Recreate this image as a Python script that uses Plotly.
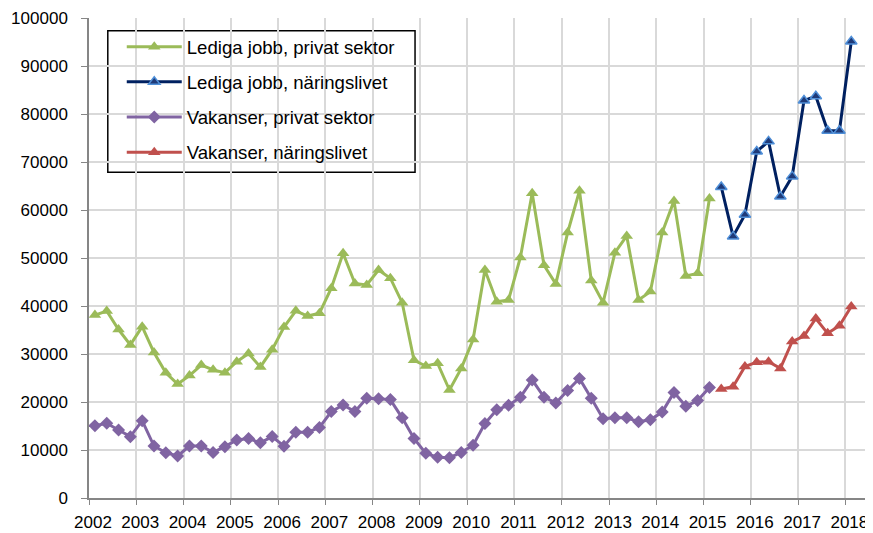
import plotly.graph_objects as go

# Quarterly data, first quarter of each series given as (year, quarter)
start_private = (2002, 1)
start_business = (2015, 2)

lediga_privat = [
    38100, 38960, 35100, 31900,
    35700, 30300, 26100, 23750,
    25500, 27700, 26700, 26100,
    28400, 30100, 27300, 30900,
    35600, 39000, 37900, 38500,
    43700, 51000, 44700, 44400,
    47500, 45800, 40700, 28700,
    27500, 28050, 22500, 27000,
    33000, 47500, 40900, 41250,
    50100, 63500, 48500, 44600,
    55300, 64000, 45300, 40700,
    51100, 54600, 41250, 43000,
    55300, 61900, 46250, 46800,
    62400,
]
vakanser_privat = [
    15070, 15560, 14170, 12780,
    16100, 10830, 9440, 8750,
    10830, 10830, 9500, 10700,
    12100, 12400, 11500, 12800,
    10800, 13700, 13700, 14700,
    18000, 19400, 18000, 20800,
    20700, 20500, 16700, 12400,
    9300, 8500, 8400, 9500,
    11000, 15500, 18400, 19300,
    21000, 24600, 21000, 19800,
    22400, 24900, 20800, 16500,
    16700, 16700, 15900, 16300,
    17900, 22000, 19100, 20300,
    23000,
]
lediga_naring = [
    64800, 54500, 59000, 72200, 74300, 62800,
    67000, 82800, 83700, 76500, 76500, 95100,
]
vakanser_naring = [
    22700, 23200, 27400, 28300, 28400, 27000,
    32600, 33750, 37400, 34300, 35900, 39900,
]
year_ticks = list(range(2002, 2019))
series_names = [
    "Lediga jobb, privat sektor",
    "Lediga jobb, näringslivet",
    "Vakanser, privat sektor",
    "Vakanser, näringslivet",
]


def quarter_x(start, n):
    y, q = start
    return [y + (q - 1 + i + 0.5) / 4 for i in range(n)]


x_priv = quarter_x(start_private, len(lediga_privat))
x_nar = quarter_x(start_business, len(lediga_naring))

fig = go.Figure()
fig.add_trace(go.Scatter(
    x=x_priv, y=lediga_privat, name=series_names[0], mode="lines+markers",
    line=dict(color="#9BBB59", width=3),
    marker=dict(symbol="triangle-up", size=11, color="#9BBB59"),
    legendgroup="a",
))
fig.add_trace(go.Scatter(
    x=x_nar, y=lediga_naring, name=series_names[1], mode="lines+markers",
    line=dict(color="#002060", width=3),
    marker=dict(symbol="triangle-up", size=10, color="#1F3A78",
                line=dict(color="#4F8FD8", width=1.5)),
    legendgroup="b",
))
fig.add_trace(go.Scatter(
    x=x_priv, y=vakanser_privat, name=series_names[2], mode="lines+markers",
    line=dict(color="#8064A2", width=3),
    marker=dict(symbol="diamond", size=10, color="#8064A2"),
    legendgroup="c",
))
fig.add_trace(go.Scatter(
    x=x_nar, y=vakanser_naring, name=series_names[3], mode="lines+markers",
    line=dict(color="#C0504D", width=3),
    marker=dict(symbol="triangle-up", size=11, color="#C0504D"),
    legendgroup="d",
))

font_family = "Liberation Sans, Arial, sans-serif"
fig.update_layout(
    width=865, height=525,
    margin=dict(l=80.5, r=3.5, t=10, b=35),
    paper_bgcolor="white", plot_bgcolor="white",
    font=dict(family=font_family, size=16, color="#000000"),
    showlegend=True,
    legend=dict(
        x=0.042, y=0.979, xanchor="left", yanchor="top",
        bgcolor="rgba(0,0,0,0)", borderwidth=0,
        font=dict(size=18.6, family=font_family),
        traceorder="grouped", tracegroupgap=8,
        itemwidth=55,
    ),
    shapes=[dict(
        type="rect", xref="paper", yref="paper",
        x0=0.0241, x1=0.418, y0=0.6785, y1=0.9735,
        line=dict(color="#000000", width=1.5), fillcolor="white",
        layer="between",
    )],
    xaxis=dict(
        range=[2002, 2018.5], tickmode="array", tickvals=year_ticks,
        ticktext=[str(y) for y in year_ticks],
        showgrid=True, gridcolor="#D9D9D9", gridwidth=1.5,
        showline=True, linecolor="#868686", linewidth=1.5,
        ticks="outside", ticklen=5, tickcolor="#868686",
        zeroline=False, tickfont=dict(size=17, family=font_family),
        ticklabelstandoff=3, ticklabelshift=4, tickangle=0,
        automargin=False,
    ),
    yaxis=dict(
        range=[0, 100000], dtick=10000, tickformat="d",
        showgrid=True, gridcolor="#D9D9D9", gridwidth=1.5,
        showline=True, linecolor="#868686", linewidth=1.5,
        ticks="outside", ticklen=6, tickcolor="#868686",
        zeroline=False, tickfont=dict(size=17, family=font_family),
        ticklabelstandoff=10, automargin=False,
    ),
)

fig.write_html("out.html")
